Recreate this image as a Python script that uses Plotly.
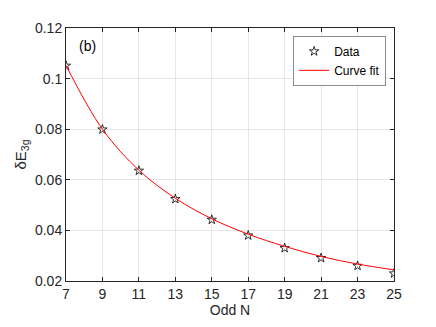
import plotly.graph_objects as go

# odd N values
n_odd = [7, 9, 11, 13, 15, 17, 19, 21, 23, 25]
# measured data (stars)
data_vals = [0.1051, 0.0799, 0.0636, 0.0524, 0.0442, 0.0380, 0.0330, 0.0291, 0.0260, 0.0230]
# curve fit values at the same N
fit_vals = [0.1052, 0.0800, 0.0638, 0.0527, 0.0446, 0.0385, 0.0337, 0.0297, 0.0267, 0.0244]

y_ticks = [0.02, 0.04, 0.06, 0.08, 0.10, 0.12]
y_tick_text = ['0.02', '0.04', '0.06', '0.08', '0.1', '0.12']

axis_col = '#262626'
grid_col = '#e6e6e6'

fig = go.Figure()
fig.add_trace(go.Scatter(x=n_odd, y=data_vals,
                         mode='markers',
                         name='Data',
                         marker=dict(symbol='star-open', size=7,
                                     color='black', line=dict(width=0.8))))
fig.add_trace(go.Scatter(x=n_odd, y=fit_vals,
                         mode='lines',
                         name='Curve fit',
                         line=dict(color='red', width=1, shape='spline')))

fig.add_annotation(text='(b)', x=0.035, y=0.97, xref='paper', yref='paper',
                   xanchor='left', yanchor='top', showarrow=False,
                   font=dict(size=14, color='black'))

# page body adds an 8px offset, so the figure is a bit smaller than the window
fig.update_layout(width=428, height=319,
                  paper_bgcolor='white', plot_bgcolor='white',
                  font=dict(family='Liberation Sans, Arial', size=14, color=axis_col),
                  margin=dict(l=57, r=42, t=16, b=46),
                  showlegend=True,
                  legend=dict(x=0.976, y=0.969, xanchor='right', yanchor='top',
                              bgcolor='white', bordercolor='#8c8c8c', borderwidth=1,
                              font=dict(size=12, color='black'),
                              tracegroupgap=0, itemwidth=30))

fig.update_xaxes(range=[7, 25], tickvals=n_odd,
                 title=dict(text='Odd N', standoff=2, font=dict(size=14)),
                 tickfont=dict(size=14),
                 showline=True, linecolor=axis_col, linewidth=1, mirror='ticks',
                 ticks='inside', ticklen=4, tickcolor=axis_col,
                 showgrid=True, gridcolor=grid_col, zeroline=False)
fig.update_yaxes(range=[0.02, 0.12], tickvals=y_ticks, ticktext=y_tick_text,
                 title=dict(text='δE<sub>3g</sub>', standoff=4, font=dict(size=15)),
                 tickfont=dict(size=14),
                 showline=True, linecolor=axis_col, linewidth=1, mirror='ticks',
                 ticks='inside', ticklen=4, tickcolor=axis_col,
                 showgrid=True, gridcolor=grid_col, zeroline=False)

fig.write_html('out.html')
